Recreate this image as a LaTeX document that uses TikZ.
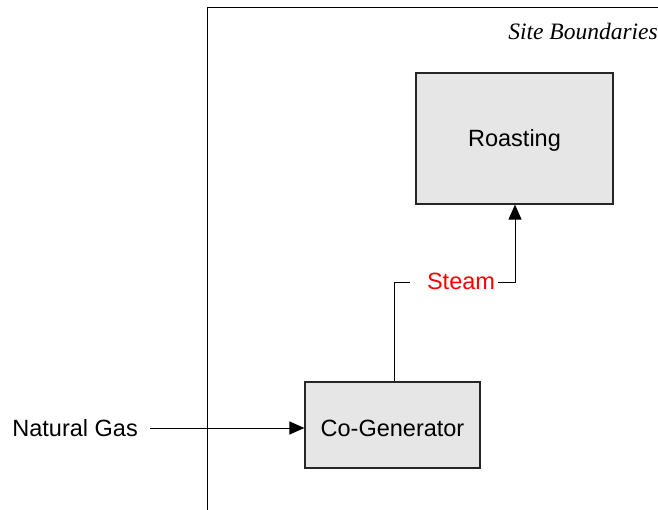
\documentclass[tikz,border=0pt]{standalone}
\usepackage{fontspec}
\setmainfont{Liberation Sans}
\newfontfamily\timesfont{Liberation Serif}
\usetikzlibrary{arrows.meta}
\definecolor{boxgray}{HTML}{E6E6E6}
\begin{document}
\begin{tikzpicture}[x=1pt,y=-1pt,
  procbox/.style={draw=black!85,line width=1.2pt,fill=boxgray,inner sep=0pt,text depth=0pt,font=\fontsize{23.5}{26}\selectfont},
  flow/.style={draw=black,line width=1pt,-{Triangle[length=15pt,width=13pt]}},
  plain/.style={draw=black,line width=1pt},
  lbl/.style={font=\fontsize{23.5}{26}\selectfont,inner sep=0pt}]
\useasboundingbox (0,0) rectangle (658,510);
% site boundary
\coordinate (bTL) at (207,8);
\coordinate (bTR) at (660,8);
\coordinate (bBL) at (207,512);
\draw[line width=1pt] (bBL) -- (bTL) -- (bTR);
\node[lbl,anchor=east,font=\timesfont\itshape\fontsize{23.5}{26}\selectfont] (site) at (658,31) {Site Boundaries};
% boxes
\node[procbox,text height=17pt,minimum width=197pt,minimum height=131pt] (roast) at (514.5,138.5) {Roasting};
\node[procbox,text height=23pt,minimum width=175pt,minimum height=86pt] (cogen) at (392.5,425) {Co-Generator};
% natural gas
\node[lbl,anchor=east] (gas) at (138,428) {Natural Gas};
\draw[flow] (gas.east) ++(12,0) coordinate (gasstart) -- (cogen.west |- gasstart);
% steam
\node[lbl,text=red] (steam) at (461,281) {Steam};
\coordinate (s1) at (394,283);
\coordinate (s2) at (410,283);
\coordinate (s3) at (498,283);
\coordinate (s4) at (515,283);
\draw[plain] (cogen.north -| s1) -- (s1) -- (s2);
\draw[flow] (s3) -- (s4) -- (roast.south -| s4);
\end{tikzpicture}
\end{document}
